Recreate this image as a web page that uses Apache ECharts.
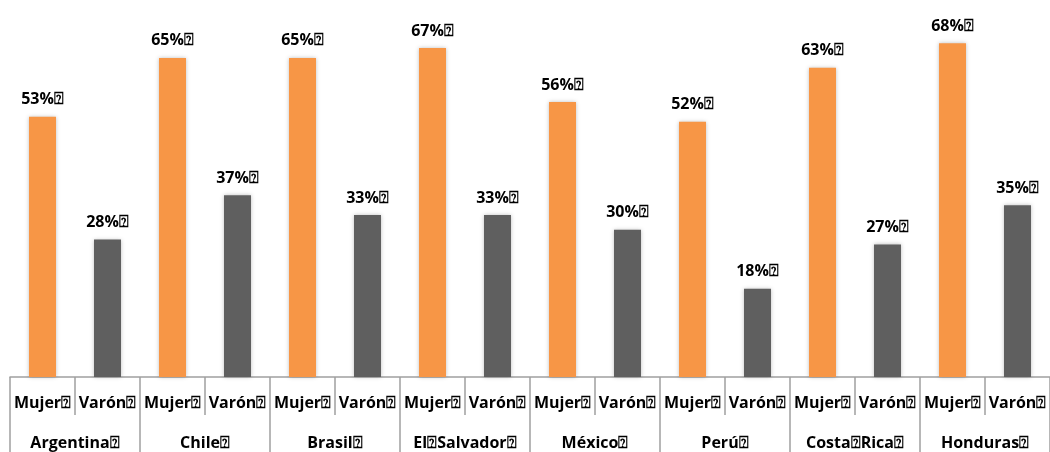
<!DOCTYPE html>
<html>
<head>
<meta charset="utf-8">
<script src="https://cdn.jsdelivr.net/npm/echarts@6/dist/echarts.min.js"></script>
<style>
  html, body { margin: 0; padding: 0; background: #fff; }
  #chart { width: 1050px; height: 452px; }
</style>
</head>
<body>
<div id="chart"></div>
<script>
var countries = ['Argentina⍰', 'Chile⍰', 'Brasil⍰', 'El⍰Salvador⍰', 'México⍰', 'Perú⍰', 'Costa⍰Rica⍰', 'Honduras⍰'];
var sexes = ['Mujer⍰', 'Varón⍰'];
var mujer = [53, 65, 65, 67, 56, 52, 63, 68];
var varon = [28, 37, 33, 33, 30, 18, 27, 35];

var colors = ['#F79646', '#5F5F5F'];
var font = '"Open Sans", Lato, sans-serif';

// interleave the two groups on one category axis
var cats = [];
var values = [];
for (var i = 0; i < countries.length; i++) {
    cats.push(sexes[0], sexes[1]);
    values.push({ value: mujer[i], itemStyle: { color: colors[0] } });
    values.push({ value: varon[i], itemStyle: { color: colors[1] } });
}

var myChart = echarts.init(document.getElementById('chart'));
myChart.setOption({
    animation: false,
    grid: { left: 10, right: 0, top: 0, bottom: 75 },
    xAxis: [{
        type: 'category',
        data: cats,
        position: 'bottom',
        axisLine: { show: true, lineStyle: { color: '#A0A0A0', width: 1.5 } },
        axisTick: { show: true, interval: 0, length: 38, lineStyle: { color: '#A0A0A0', width: 1.5 } },
        axisLabel: { interval: 0, margin: 18, color: '#000', fontWeight: 'bold', fontSize: 16, fontFamily: font }
    }, {
        type: 'category',
        data: countries,
        position: 'bottom',
        axisLine: { show: false },
        axisTick: { show: true, interval: 0, length: 80, lineStyle: { color: '#A0A0A0', width: 1.5 } },
        axisLabel: { interval: 0, margin: 58, color: '#000', fontWeight: 'bold', fontSize: 16, fontFamily: font }
    }],
    yAxis: {
        type: 'value',
        min: 0,
        max: 76.8,
        show: false,
        splitLine: { show: false }
    },
    series: [{
        type: 'bar',
        xAxisIndex: 0,
        barWidth: 27,
        data: values,
        itemStyle: { shadowBlur: 4, shadowColor: 'rgba(0,0,0,0.25)' },
        label: {
            show: true,
            position: 'top',
            distance: 9,
            formatter: '{c}%⍰',
            color: '#000',
            fontWeight: 'bold',
            fontSize: 16,
            fontFamily: font
        }
    }]
});
</script>
</body>
</html>
